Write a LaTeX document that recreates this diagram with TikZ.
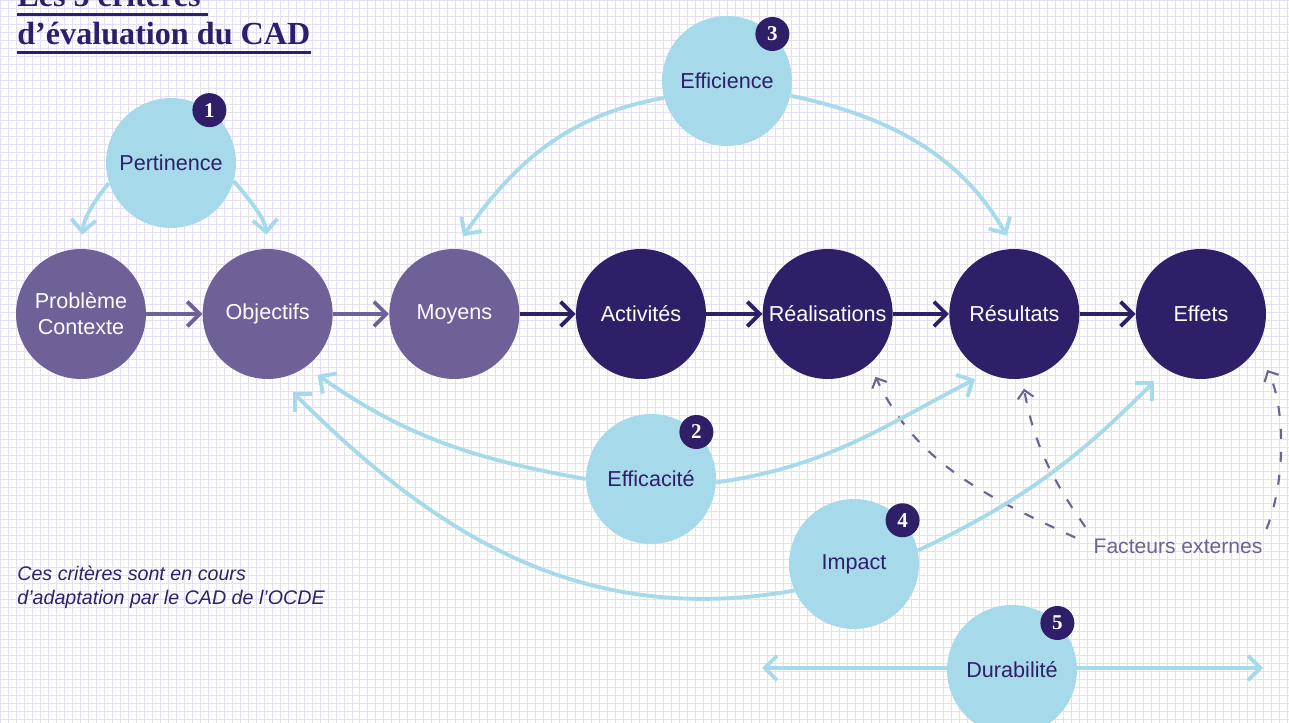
\documentclass[tikz,border=0pt]{standalone}
\usepackage{fontspec}
\setmainfont{Liberation Sans}
\newfontfamily\titrefont{Liberation Serif}
\usetikzlibrary{arrows.meta,positioning}

\definecolor{violetfonce}{RGB}{46,31,104}
\definecolor{violetmoyen}{RGB}{111,96,152}
\definecolor{bleuclair}{RGB}{166,218,235}
\definecolor{quadrillage}{RGB}{228,223,242}

\tikzset{
  etape/.style={circle, minimum size=2.6cm, inner sep=0pt, text=white,
    font=\fontsize{12.3}{14.7}\selectfont, align=center},
  etapeA/.style={etape, fill=violetmoyen},
  etapeB/.style={etape, fill=violetfonce},
  critere/.style={circle, fill=bleuclair, minimum size=2.6cm, inner sep=0pt,
    text=violetfonce, font=\fontsize{12.3}{14}\selectfont},
  numero/.style={circle, fill=violetfonce, minimum size=0.68cm, inner sep=0pt,
    text=white, font=\titrefont\bfseries\fontsize{12}{12}\selectfont},
  fleche/.style={line width=2.2pt, -{Straight Barb[length=7pt,width=14pt]}},
  lien/.style={line width=2.2pt, bleuclair, -{Straight Barb[length=7pt,width=14pt]}},
  externe/.style={line width=1.2pt, violetmoyen, dash pattern=on 0.2cm off 0.26cm,
    -{Straight Barb[length=4.5pt,width=9pt]}},
  titre/.style={inner sep=0pt, anchor=base west, text=violetfonce,
    font=\titrefont\bfseries\fontsize{18.3}{22}\selectfont},
  souligne/.style={line width=1.6pt, violetfonce},
}

\begin{document}
\begin{tikzpicture}[x=0.02cm, y=-0.02cm]
    \useasboundingbox (0,0) rectangle (1289,723);
    \draw[quadrillage, line width=0.5pt, step=0.16cm] (0,0) grid (1289,723);

    % Titre
    \node[titre] (ttl1) at (17,7) {Les 5 critères};
    \node[titre] (ttl2) at (17,45) {d’évaluation du CAD};
    \draw[souligne] ([yshift=-0.15cm]ttl1.base west) -- ([yshift=-0.15cm, xshift=0.14cm]ttl1.base east);
    \draw[souligne] ([yshift=-0.15cm]ttl2.base west) -- ([yshift=-0.15cm]ttl2.base east);

    % Chaine des resultats
    \node[etapeA] (prob) at (81,314) {Problème\\Contexte};
    \node[etapeA, right=1.12cm of prob] (obj) {Objectifs};
    \node[etapeA, right=1.12cm of obj] (moy) {Moyens};
    \node[etapeB, right=1.12cm of moy] (act) {Activités};
    \node[etapeB, right=1.12cm of act] (real) {Réalisations};
    \node[etapeB, right=1.12cm of real] (res) {Résultats};
    \node[etapeB, right=1.12cm of res] (effets) {Effets};

    \draw[fleche, violetmoyen] (prob) -- (obj);
    \draw[fleche, violetmoyen] (obj) -- (moy);
    \draw[fleche, violetfonce] (moy) -- (act);
    \draw[fleche, violetfonce] (act) -- (real);
    \draw[fleche, violetfonce] (real) -- (res);
    \draw[fleche, violetfonce] (res) -- (effets);

    % Facteurs externes
    \node[text=violetmoyen, inner sep=0pt, font=\fontsize{12}{14}\selectfont] (fe) at (1178,546) {Facteurs externes};
    \draw[externe, shorten <=0.4cm, shorten >=0.28cm] (fe.west) to[out=155,in=-65] (real.-50);
    \draw[externe, shorten <=0.28cm, shorten >=0.2cm] (fe.north west) to[out=125,in=-80] (res.-83);
    \draw[externe, shorten <=0.2cm, shorten >=0.48cm, looseness=0.85] (fe.north east) to[out=68,in=-63] (effets.-32);

    % Criteres
    \coordinate (durL) at (762,668);
    \coordinate (durR) at (1263,668);
    \draw[lien, {Straight Barb[length=7pt,width=14pt]}-{Straight Barb[length=7pt,width=14pt]}] (durL) -- (durR);

    \node[critere] (pert) at (171,163) {Pertinence};
    \node[critere] (effic) at (727,81) {Efficience};
    \node[critere] (effca) at (651,479) {Efficacité};
    \node[critere] (impact) at (854,564) {Impact};
    \node[critere] (durab) at (1012,670) {Durabilité};

    \node[numero] (b1) at (pert.54) {1};
    \node[numero] (b3) at (effic.46) {3};
    \node[numero] (b2) at (effca.46) {2};
    \node[numero] (b4) at (impact.42) {4};
    \node[numero] (b5) at (durab.46) {5};

    \draw[lien, shorten >=0.28cm] (pert.198) to[out=230,in=85] (prob.north);
    \draw[lien, shorten >=0.28cm] (pert.-16) to[out=-50,in=95] (obj.north);
    \draw[lien, shorten >=0.3cm] (effic.195) to[out=190,in=55] (moy.north);
    \draw[lien, shorten >=0.3cm] (effic.-13) to[out=-12,in=120] (res.north);
    \draw[lien, shorten >=0.28cm] (effca.180) to[out=170,in=-35] (obj.-54);
    \draw[lien, shorten >=0.26cm] (effca.-3) to[out=8,in=-153] (res.-115);
    \draw[lien, shorten >=0.4cm] (impact.204) to[out=190,in=-45] (obj.-80);
    \draw[lien, shorten >=0.34cm] (impact.12) to[out=25,in=-135] (effets.-122);

    % Note
    \node[anchor=north west, inner sep=0pt, align=left, text=violetfonce,
      font=\itshape\fontsize{11.2}{13.6}\selectfont] (note) at (17,566)
      {Ces critères sont en cours\\d’adaptation par le CAD de l’OCDE};
\end{tikzpicture}
\end{document}
